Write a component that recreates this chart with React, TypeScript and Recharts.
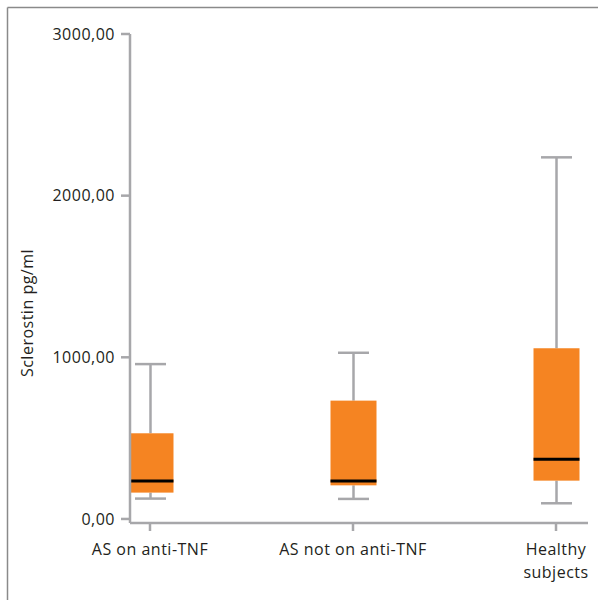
import React from 'react';
import { ComposedChart, Bar, XAxis, YAxis } from 'recharts';

const categories = ['AS on anti-TNF', 'AS not on anti-TNF', 'Healthy subjects'];
const whiskerLow = [126, 124, 97];
const quartile1 = [163, 208, 237];
const medians = [235, 235, 369];
const quartile3 = [530, 732, 1056];
const whiskerHigh = [958, 1028, 2237];
const yTicks = [0, 1000, 2000, 3000];

const data = categories.map((name, i) => ({
  pos: i + 1,
  name,
  low: whiskerLow[i],
  q1: quartile1[i],
  median: medians[i],
  q3: quartile3[i],
  high: whiskerHigh[i],
  range: [whiskerLow[i], whiskerHigh[i]],
}));

const GRAY = '#a7a7aa';
const ORANGE = '#f58422';
const FONT = '"Open Sans", "Noto Sans", sans-serif';
const TEXT = '#231f20';
const SPACING = 0.5;

const BoxShape = (props: any) => {
  const { x, y, width, height, payload } = props;
  if (!payload) return null;
  const top = Math.min(y, y + height);
  const h = Math.abs(height);
  const { low, q1, median, q3, high } = payload;
  const s = h / (high - low);
  const yOf = (v: number) => top + (high - v) * s;
  const cx = x + width / 2;
  const cap = 31;
  return (
    <g>
      <line x1={cx} x2={cx} y1={yOf(high)} y2={yOf(q3)} stroke={GRAY} strokeWidth={2.5} />
      <line x1={cx} x2={cx} y1={yOf(q1)} y2={yOf(low)} stroke={GRAY} strokeWidth={2.5} />
      <line x1={cx - cap / 2} x2={cx + cap / 2} y1={yOf(high)} y2={yOf(high)} stroke={GRAY} strokeWidth={2.5} />
      <line x1={cx - cap / 2} x2={cx + cap / 2} y1={yOf(low)} y2={yOf(low)} stroke={GRAY} strokeWidth={2.5} />
      <rect x={x} y={yOf(q3)} width={width} height={yOf(q1) - yOf(q3)} fill={ORANGE} />
      <line x1={x} x2={x + width} y1={yOf(median)} y2={yOf(median)} stroke="#000" strokeWidth={3} />
    </g>
  );
};

const XTick = (props: any) => {
  const { x, y, payload } = props;
  const label = categories[payload.value - 1] || '';
  const lines = label === 'Healthy subjects' ? ['Healthy', 'subjects'] : [label];
  return (
    <text x={x} y={y} textAnchor="middle" fill={TEXT} fontFamily={FONT} fontSize={16} letterSpacing={SPACING}>
      {lines.map((l, i) => (
        <tspan key={i} x={x} dy={i === 0 ? 22 : 23}>
          {l}
        </tspan>
      ))}
    </text>
  );
};

export default function App() {
  return (
    <div style={{ position: 'absolute', left: 0, top: 0, width: 598, height: 600, background: '#fff' }}>
      <svg width={598} height={600} style={{ position: 'absolute', left: 0, top: 0 }}>
        <line x1={7.5} x2={598} y1={7.5} y2={7.5} stroke="#8a8a8a" strokeWidth={1.5} />
        <line x1={7.5} x2={7.5} y1={7.5} y2={600} stroke="#8a8a8a" strokeWidth={1.5} />
        <text
          x={33}
          y={313}
          transform="rotate(-90 33 313)"
          textAnchor="middle"
          fill={TEXT}
          fontFamily={FONT}
          fontSize={16}
          letterSpacing={SPACING}
        >
          Sclerostin pg/ml
        </text>
      </svg>
      <div style={{ position: 'absolute', left: 0, top: 0 }}>
        <ComposedChart width={598} height={600} data={data} margin={{ top: 34, right: 10, bottom: 17, left: 0 }}>
          <XAxis
            type="number"
            dataKey="pos"
            domain={[0.9015, 3.1576]}
            ticks={[1, 2, 3]}
            allowDataOverflow
            interval={0}
            height={60}
            tickSize={8}
            axisLine={{ stroke: GRAY, strokeWidth: 2.5 }}
            tickLine={{ stroke: GRAY, strokeWidth: 2.5 }}
            tick={<XTick />}
          />
          <YAxis
            type="number"
            domain={[-25, 3000]}
            ticks={yTicks}
            allowDataOverflow
            width={130}
            tickSize={9}
            tickMargin={6}
            axisLine={{ stroke: GRAY, strokeWidth: 2.5 }}
            tickLine={{ stroke: GRAY, strokeWidth: 2.5 }}
            tick={{ fill: TEXT, fontFamily: FONT, fontSize: 16, letterSpacing: SPACING }}
            tickFormatter={(v: number) => v.toFixed(2).replace('.', ',')}
          />
          <Bar dataKey="range" barSize={46} shape={BoxShape} isAnimationActive={false} />
        </ComposedChart>
      </div>
    </div>
  );
}
